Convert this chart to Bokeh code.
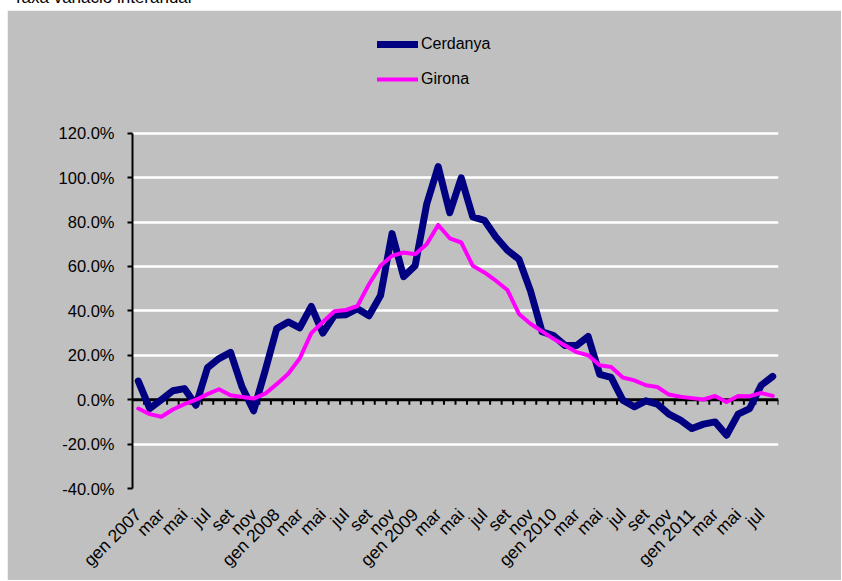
import math
from bokeh.plotting import figure
from bokeh.models import (ColumnDataSource, FixedTicker, Span, Legend, LegendItem, Div)
from bokeh.layouts import column
from bokeh.embed import file_html
from bokeh.resources import INLINE

title_text = "Taxa variació interanual"

month_labels = ["gen 2007", "mar", "mai", "jul", "set", "nov",
                "gen 2008", "mar", "mai", "jul", "set", "nov",
                "gen 2009", "mar", "mai", "jul", "set", "nov",
                "gen 2010", "mar", "mai", "jul", "set", "nov",
                "gen 2011", "mar", "mai", "jul"]

cerdanya = [8.4, -4.0, 0.0, 4.0, 5.0, -2.5, 14.4, 18.5, 21.3, 5.7,
            -5.0, 13.0, 32.0, 35.0, 32.4, 42.0, 30.0, 38.0, 38.3, 41.0,
            37.8, 46.9, 74.8, 55.4, 60.3, 88.0, 105.0, 84.2, 99.9, 82.3,
            80.8, 73.3, 67.3, 63.3, 49.0, 30.6, 28.9, 24.4, 24.4, 28.5,
            11.4, 10.0, -0.2, -3.2, -0.5, -2.0, -6.5, -9.2, -13.0, -11.0,
            -10.0, -16.0, -6.5, -4.0, 6.5, 10.5]

girona = [-4.0, -6.5, -7.7, -4.4, -2.0, 0.0, 2.5, 4.7, 2.0, 1.2,
          0.5, 2.7, 7.0, 11.7, 18.6, 30.0, 35.0, 39.8, 40.4, 42.2,
          52.0, 60.3, 64.8, 66.3, 65.5, 70.0, 78.7, 72.7, 70.8, 60.3,
          57.3, 53.6, 49.4, 38.6, 34.2, 30.8, 27.4, 24.4, 21.4, 20.0,
          15.5, 14.7, 10.0, 8.7, 6.5, 5.7, 2.3, 1.3, 0.7, 0.1,
          1.7, -1.0, 1.7, 1.6, 3.0, 1.7]

y_ticks = [-40, -20, 0, 20, 40, 60, 80, 100, 120]

n = len(cerdanya)
x = list(range(n))
src = ColumnDataSource(dict(x=x, cerdanya=cerdanya, girona=girona))

FONT = "Liberation Sans"
GREY = "#C0C0C0"

# layout in pixels: axis area is 356px tall; the frame extends 108px above it
# so that the legend (inside the frame) can sit above the value axis
AXIS_PX = 356
TOP_EXTRA_PX = 108
y_lo, y_hi = y_ticks[0], y_ticks[-1]
y_top = y_hi + TOP_EXTRA_PX * (y_hi - y_lo) / AXIS_PX

p = figure(width=834, height=570, output_backend="svg", toolbar_location=None,
           x_range=(-0.5, n - 0.5), y_range=(y_lo, y_top),
           min_border_left=125, min_border_right=63, min_border_top=15,
           min_border_bottom=91, margin=(0, 0, 0, 7))
p.background_fill_color = GREY
p.border_fill_color = GREY
p.outline_line_color = GREY
p.outline_line_width = 2

# x axis (labels only)
xt = list(range(0, n, 2))
p.xaxis.ticker = FixedTicker(ticks=xt)
p.xaxis.major_label_overrides = {t: lab for t, lab in zip(xt, month_labels)}
p.xaxis.major_label_orientation = math.pi / 4
p.xaxis.axis_line_color = None
p.xaxis.major_tick_line_color = None
p.xaxis.minor_tick_line_color = None
p.xaxis.major_tick_out = 0
p.xaxis.major_tick_in = 0
p.xaxis.minor_tick_out = 0
p.xaxis.minor_tick_in = 0
p.xaxis.major_label_text_font = FONT
p.xaxis.major_label_text_font_size = "17.5px"
p.xaxis.major_label_text_color = "black"
p.xaxis.major_label_standoff = 23
p.xgrid.grid_line_color = None

# y axis
p.yaxis.ticker = FixedTicker(ticks=y_ticks)
p.yaxis.bounds = (y_lo, y_hi)
p.yaxis.major_label_overrides = {t: f"{t:.1f}%" for t in y_ticks}
p.yaxis.axis_line_color = "black"
p.yaxis.axis_line_width = 2
p.yaxis.major_tick_line_color = "black"
p.yaxis.major_tick_line_width = 2
p.yaxis.major_tick_in = 0
p.yaxis.major_tick_out = 5
p.yaxis.minor_tick_line_color = None
p.yaxis.major_label_text_font = FONT
p.yaxis.major_label_text_font_size = "16.5px"
p.yaxis.major_label_text_color = "black"
p.yaxis.major_label_standoff = 13

p.ygrid.ticker = FixedTicker(ticks=[t for t in y_ticks if t != 0])
p.ygrid.grid_line_color = "white"
p.ygrid.grid_line_width = 2.5

# zero line with category boundary ticks
p.add_layout(Span(location=0, dimension="width", line_color="black",
                  line_width=3, level="underlay"))
bounds = [i + 0.5 for i in range(n)]
tick_len = 5 * (y_hi - y_lo) / AXIS_PX
p.segment(x0=bounds, x1=bounds, y0=[0] * n, y1=[-tick_len] * n,
          line_color="black", line_width=2)

r1 = p.line("x", "cerdanya", source=src, line_color="#000080", line_width=7,
            line_join="round", line_cap="round")
r2 = p.line("x", "girona", source=src, line_color="#FF00FF", line_width=4,
            line_join="round", line_cap="round")

legend = Legend(items=[LegendItem(label="Cerdanya", renderers=[r1]),
                       LegendItem(label="Girona", renderers=[r2])],
                location=(245, 399))
legend.background_fill_alpha = 0
legend.border_line_color = None
legend.padding = 0
legend.margin = 0
legend.spacing = 15
legend.glyph_width = 41
legend.glyph_height = 20
legend.label_height = 20
legend.label_standoff = 3
legend.label_text_font = FONT
legend.label_text_font_size = "16px"
legend.label_text_color = "black"
p.add_layout(legend)

title = Div(text=title_text, width=820, height=10, margin=(0, 0, 0, 13),
            styles={"transform": "translateY(-14px)", "font-size": "17px",
                    "font-family": FONT, "white-space": "nowrap",
                    "color": "black"})

layout = column(title, p, spacing=0)

open("out.html", "w").write(file_html(layout, INLINE))
